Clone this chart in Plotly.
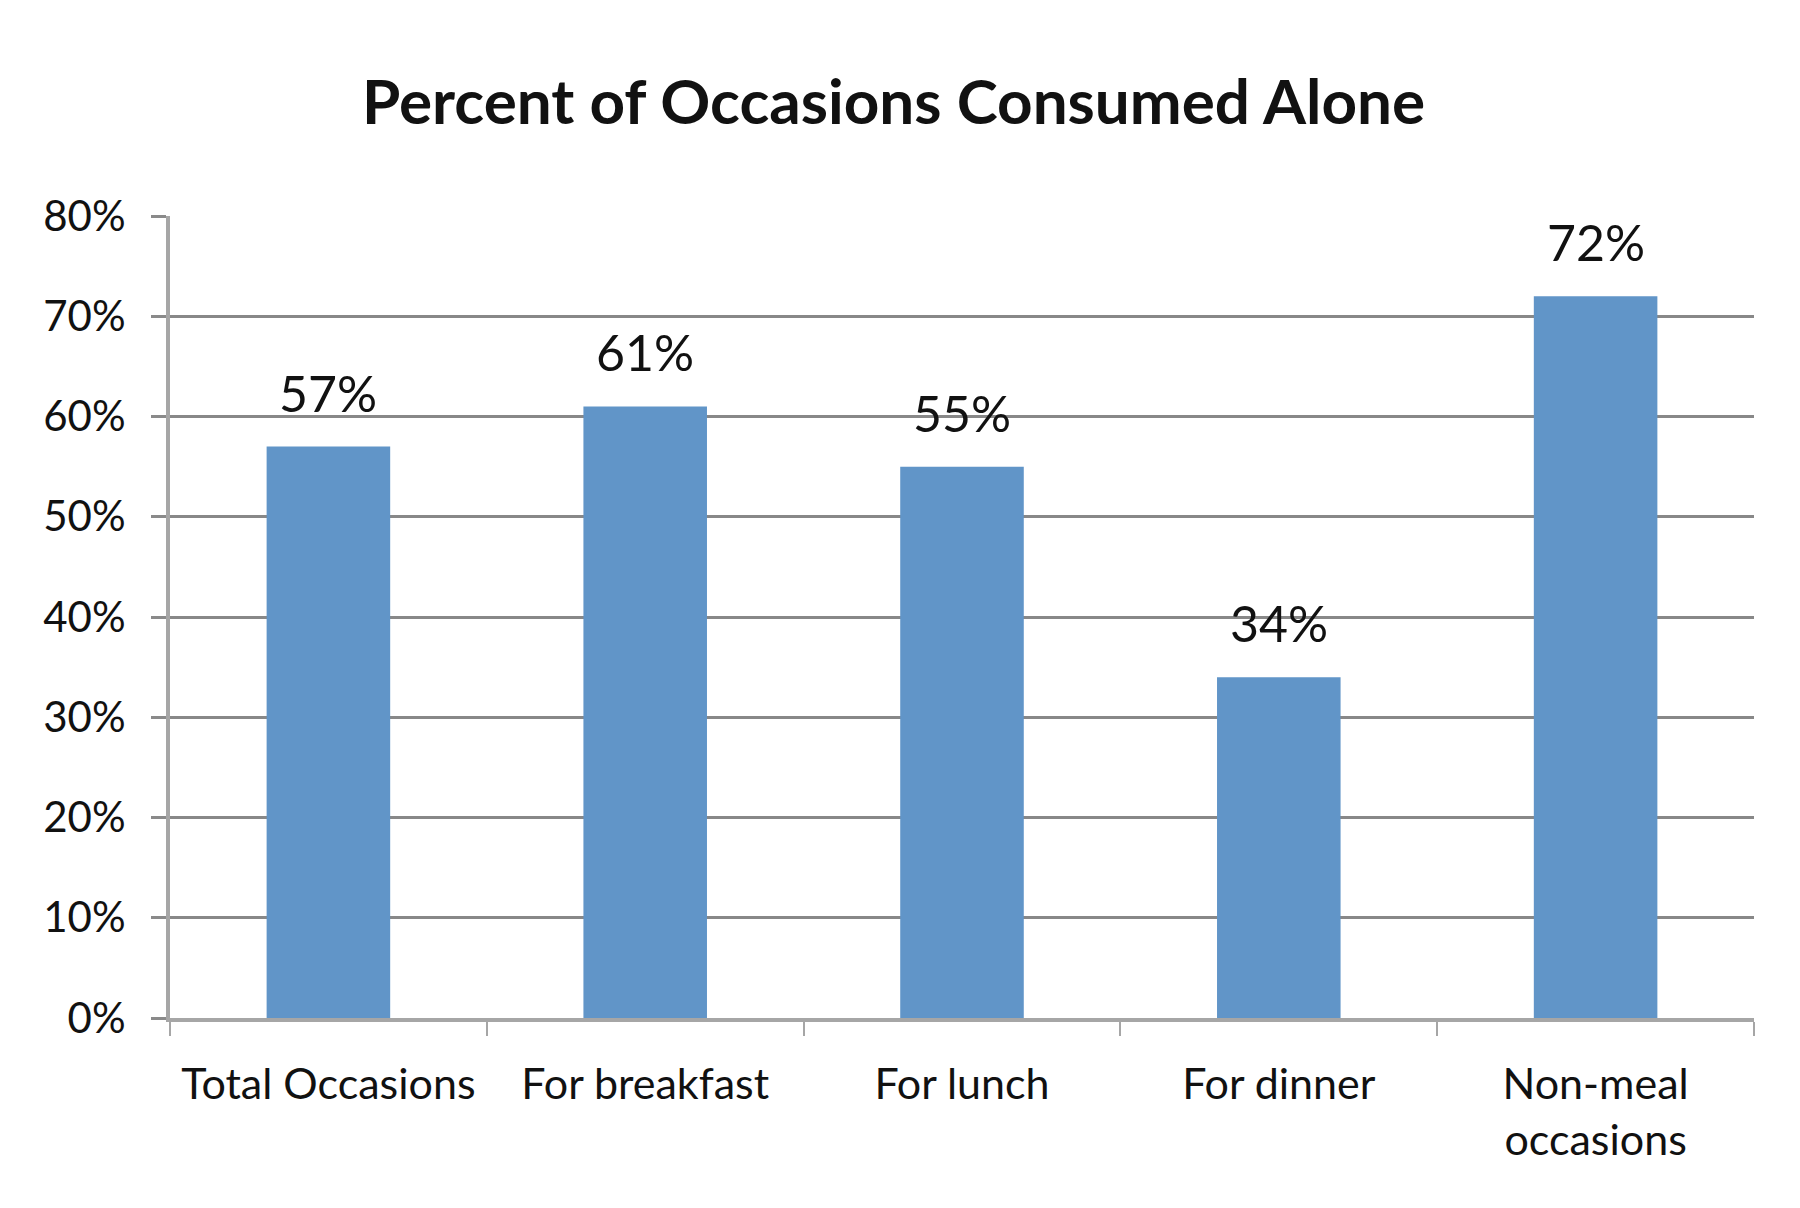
import plotly.graph_objects as go

categories = ["Total Occasions", "For breakfast", "For lunch", "For dinner", "Non-meal<br>occasions"]
values = [0.57, 0.61, 0.55, 0.34, 0.72]
labels = ["57%", "61%", "55%", "34%", "72%"]
tick_vals = [0, 0.1, 0.2, 0.3, 0.4, 0.5, 0.6, 0.7, 0.8]
tick_text = ["0%", "10%", "20%", "30%", "40%", "50%", "60%", "70%", "80%"]

FONT = "Lato"
fig = go.Figure()
fig.add_trace(go.Bar(
    x=categories, y=values,
    marker=dict(color="#6195C8", line=dict(width=0)),
    width=0.39,
))
for c, v, t in zip(categories, values, labels):
    fig.add_annotation(x=c, y=v, text=t, showarrow=False, yanchor="bottom",
                       yshift=22, font=dict(family=FONT, size=50, color="#111111"))

fig.update_layout(
    width=1800, height=1208,
    paper_bgcolor="white", plot_bgcolor="white",
    margin=dict(l=162, r=54, t=208, b=198),
    showlegend=False,
    title=dict(text="<b>Percent of Occasions Consumed Alone</b>", x=0.492, xanchor="center",
               y=1 - 94/1208, yanchor="middle",
               font=dict(family=FONT, size=62, color="#111111")),
    bargap=0.61,
)
fig.update_xaxes(
    showline=True, linecolor="#A6A6A6", linewidth=4,
    ticks="outside", tickson="boundaries", ticklen=14, tickwidth=2, tickcolor="#A6A6A6",
    tickfont=dict(family=FONT, size=43, color="#111111"),
    ticklabelstandoff=25,
    showgrid=False,
)
fig.update_yaxes(
    range=[0, 0.8], tickvals=tick_vals, ticktext=tick_text,
    showline=True, linecolor="#A6A6A6", linewidth=4,
    ticks="outside", ticklen=15, tickwidth=3, tickcolor="#8A8A8A",
    showgrid=True, gridcolor="#888888", gridwidth=3,
    tickfont=dict(family=FONT, size=42, color="#111111"),
    ticklabelstandoff=17,
    zeroline=False,
)
fig.write_html("out.html")
